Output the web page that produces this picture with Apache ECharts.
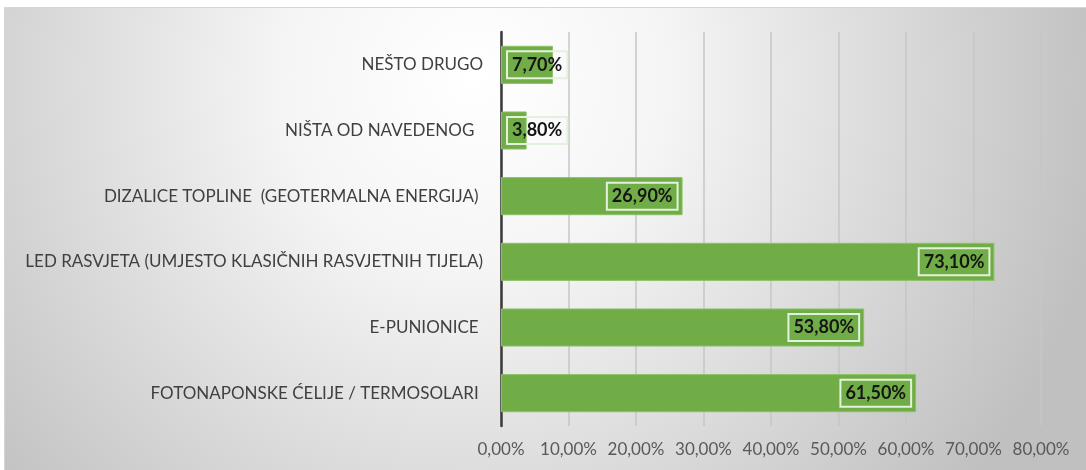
<!DOCTYPE html>
<html>
<head>
<meta charset="utf-8">
<script src="https://cdn.jsdelivr.net/npm/echarts@6/dist/echarts.min.js"></script>
<style>
  html, body { margin: 0; padding: 0; background: #ffffff; }
  #chart { width: 1086px; height: 470px; }
</style>
</head>
<body>
<div id="chart"></div>
<script>
// Categories listed bottom to top (ECharts category axis starts at the bottom)
const categories = [
  'FOTONAPONSKE ĆELIJE / TERMOSOLARI ',
  'E-PUNIONICE ',
  'LED RASVJETA (UMJESTO KLASIČNIH RASVJETNIH TIJELA)',
  'DIZALICE TOPLINE  (GEOTERMALNA ENERGIJA) ',
  'NIŠTA OD NAVEDENOG  ',
  'NEŠTO DRUGO'
];
const values = [61.5, 53.8, 73.1, 26.9, 3.8, 7.7];
const axisMax = 80;
const axisStep = 10;

const fmtPct = v => v.toFixed(2).replace('.', ',') + '%';

const chart = echarts.init(document.getElementById('chart'));

const labelBase = {
  show: true,
  fontFamily: 'Lato, "Open Sans", sans-serif',
  fontWeight: 'bold',
  fontSize: 18,
  color: '#151515',
  borderColor: '#e4f1dc',
  borderWidth: 2,
  padding: [5, 5, 4, 5],
  formatter: p => fmtPct(p.value)
};

chart.setOption({
  animation: false,
  graphic: [{
    type: 'rect',
    left: 4, top: 7,
    shape: { width: 1082, height: 463 },
    silent: true,
    z: -10,
    style: {
      fill: {
        type: 'radial', x: 470, y: 70, r: 640, global: true,
        colorStops: [
          { offset: 0, color: '#ffffff' },
          { offset: 0.3, color: '#f5f5f5' },
          { offset: 1, color: '#c0c0c0' }
        ]
      },
      stroke: '#d6d6d6',
      lineWidth: 1
    }
  }],
  grid: { left: 501, right: 45, top: 32, bottom: 44 },
  xAxis: {
    type: 'value',
    min: 0, max: axisMax, interval: axisStep,
    axisLine: { show: false },
    axisTick: { show: false },
    splitLine: { show: true, lineStyle: { color: '#c6c6c6', width: 1.5 } },
    axisLabel: {
      margin: 15,
      fontFamily: 'Lato, "Open Sans", sans-serif',
      fontSize: 17,
      color: '#595959',
      formatter: v => fmtPct(v)
    }
  },
  yAxis: {
    type: 'category',
    data: categories,
    axisLine: { show: true, lineStyle: { color: '#3a3a3a', width: 2.5 } },
    axisTick: { show: false },
    axisLabel: {
      margin: 18,
      fontFamily: 'Lato, "Open Sans", sans-serif',
      fontSize: 17,
      color: '#404040'
    }
  },
  series: [{
    type: 'bar',
    data: values.map(v => ({
      value: v,
      label: v < 10
        ? { position: 'insideLeft', distance: 6 }
        : { position: 'insideRight', distance: 5 }
    })),
    barCategoryGap: '42%',
    itemStyle: { color: '#70ad47', borderColor: '#8cc266', borderWidth: 1 },
    label: labelBase
  }]
});
</script>
</body>
</html>
